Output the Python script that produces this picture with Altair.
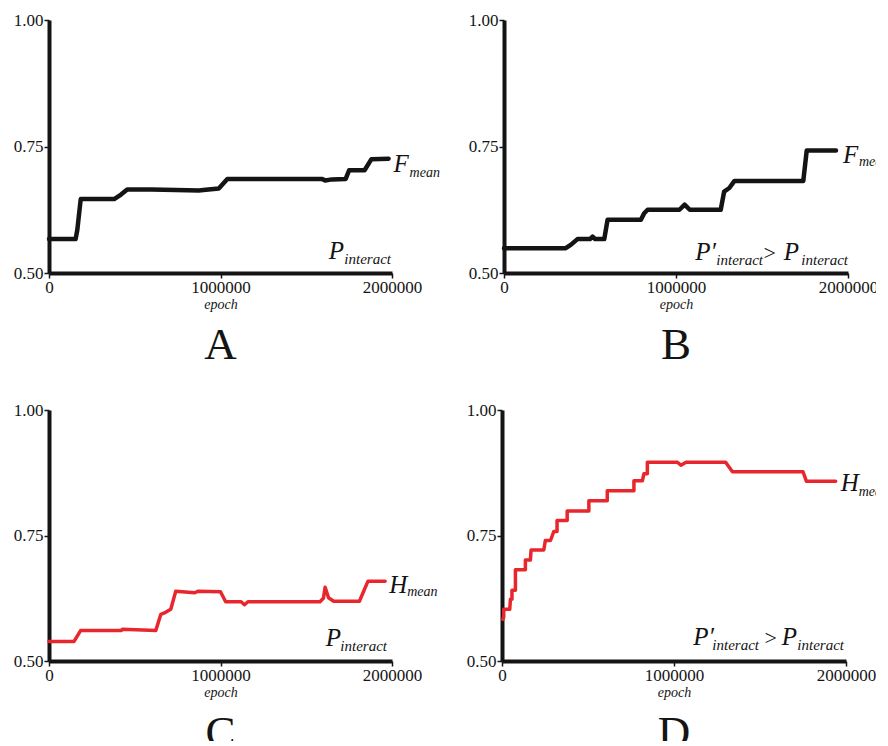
import altair as alt
import pandas as pd

# ---------------- data ----------------
A_epoch = [0, 155000, 165000, 185000, 380000, 420000, 456000, 600000, 874000, 900000,
           990000, 1040000, 1590000, 1610000, 1650000, 1730000, 1750000, 1840000, 1880000, 1980000]
A_value = [0.567, 0.567, 0.585, 0.646, 0.646, 0.655, 0.665, 0.665, 0.663, 0.664,
           0.667, 0.686, 0.686, 0.683, 0.685, 0.686, 0.703, 0.703, 0.725, 0.726]

B_epoch = [0, 359000, 390000, 427000, 500000, 515000, 530000, 583000, 602000, 796000,
           815000, 835000, 1020000, 1050000, 1080000, 1260000, 1280000, 1310000, 1340000,
           1740000, 1760000, 1930000]
B_value = [0.549, 0.549, 0.556, 0.567, 0.567, 0.572, 0.567, 0.567, 0.605, 0.605,
           0.618, 0.625, 0.625, 0.635, 0.625, 0.625, 0.661, 0.668, 0.682,
           0.682, 0.742, 0.742]

C_epoch = [0, 146000, 185000, 420000, 430000, 623000, 652000, 680000, 710000, 739000,
           850000, 870000, 1000000, 1030000, 1120000, 1140000, 1160000, 1580000, 1600000,
           1610000, 1630000, 1660000, 1810000, 1860000, 1960000]
C_value = [0.539, 0.539, 0.561, 0.561, 0.563, 0.561, 0.593, 0.597, 0.603, 0.639,
           0.636, 0.639, 0.638, 0.618, 0.618, 0.612, 0.618, 0.618, 0.625,
           0.647, 0.626, 0.619, 0.619, 0.659, 0.659]

D_epoch = [5000, 10000, 10000, 45000, 49000, 58000, 58000, 78000, 78000, 136000, 136000,
           165000, 169000, 243000, 252000, 282000, 301000, 320000, 320000, 379000, 379000,
           505000, 505000, 612000, 612000, 767000, 767000, 816000, 825000, 845000, 845000,
           1020000, 1040000, 1070000, 1300000, 1340000, 1750000, 1770000, 1940000]
D_value = [0.583, 0.588, 0.603, 0.603, 0.623, 0.623, 0.641, 0.641, 0.682, 0.682, 0.701,
           0.701, 0.721, 0.721, 0.740, 0.740, 0.758, 0.758, 0.780, 0.780, 0.799,
           0.799, 0.819, 0.819, 0.839, 0.839, 0.859, 0.859, 0.873, 0.873, 0.896,
           0.896, 0.890, 0.896, 0.896, 0.877, 0.877, 0.858, 0.858]

x_ticks = [0, 1000000, 2000000]
y_ticks = [0.50, 0.75, 1.00]
panel_letters = ["A", "B", "C", "D"]

BLACK = "#141414"
RED = "#e8262d"
SERIF = "Liberation Serif"


def text_layer(x, y, text, size, dx, dy, align="left", italic=True):
    return alt.Chart(pd.DataFrame({"k": [0]})).mark_text(
        text=text, font=SERIF, fontSize=size, fontStyle="italic" if italic else "normal",
        align=align, baseline="alphabetic", dx=dx, dy=dy, color=BLACK,
    ).encode(x=alt.datum(x), y=alt.datum(y))


def panel(epochs, values, color, stroke, letter, mean_sym, mean_off, p_parts,
          width, height):
    df = pd.DataFrame({"epoch": epochs, "value": values})
    line = alt.Chart(df).mark_line(color=color, strokeWidth=stroke, strokeJoin="round",
                                   strokeCap="round").encode(
        x=alt.X("epoch:Q", scale=alt.Scale(domain=[0, 2000000]),
                axis=alt.Axis(values=x_ticks, format="d", title="epoch", labelFlush=False,
                              grid=False)),
        y=alt.Y("value:Q", scale=alt.Scale(domain=[0.5, 1.0]),
                axis=alt.Axis(values=y_ticks, format=".2f", title=None, grid=False,
                              minExtent=47)),
    )
    layers = [line]
    ex, ev = epochs[-1], values[-1]
    fdx, fdy, mdx, mdy = mean_off
    layers.append(text_layer(ex, ev, mean_sym, 25, fdx, fdy))
    layers.append(text_layer(ex, ev, "mean", 14, mdx, mdy))
    for txt, size, dx, dy, italic in p_parts:
        layers.append(text_layer(2000000, 0.5, txt, size, dx, dy, align="right", italic=italic))
    return alt.layer(*layers).properties(
        width=width, height=height,
        title=alt.TitleParams(letter, orient="bottom", anchor="middle", font=SERIF,
                              fontSize=45, fontWeight="normal", color=BLACK, offset=12),
    )


pA = [("P", 25, -48, -14, True), ("interact", 15, -1, -9, True)]
pB = [("P\u2032", 25, -132, -13, True), ("interact", 15, -85, -8, True),
      (">", 22, -72, -13, False), ("P", 25, -49, -13, True), ("interact", 15, 0, -8, True)]
pC = [("P", 25, -51, -15, True), ("interact", 15, -5, -10, True)]
pD = [("P\u2032", 25, -132, -16, True), ("interact", 15, -87, -11, True),
      (">", 22, -69, -16, False), ("P", 25, -49, -16, True), ("interact", 15, -2, -11, True)]

A = panel(A_epoch, A_value, BLACK, 4.5, panel_letters[0], "F", (5, 13, 21, 18), pA, 343, 253)
B = panel(B_epoch, B_value, BLACK, 4.5, panel_letters[1], "F", (7, 12, 23, 15), pB, 344, 253)
C = panel(C_epoch, C_value, RED, 3.5, panel_letters[2], "H", (4, 12, 22, 15), pC, 343, 251)
D = panel(D_epoch, D_value, RED, 3.5, panel_letters[3], "H", (5, 10, 23, 15), pD, 344, 251)

chart = alt.vconcat(
    alt.hconcat(A, B, spacing=17),
    alt.hconcat(C, D, spacing=17),
    spacing=33,
).properties(
    padding={"left": -6, "top": 3, "right": -14, "bottom": -15},
).configure_view(stroke=None).configure_axis(
    labelFont=SERIF, labelFontSize=17, labelColor=BLACK, labelPadding=1,
    domainColor=BLACK, domainWidth=4, tickColor=BLACK, tickWidth=1.5, tickSize=5,
    titleFont=SERIF, titleFontStyle="italic", titleFontWeight="normal",
    titleFontSize=14, titleColor=BLACK, titlePadding=2,
)

chart.save("out.html", embed_options={"renderer": "svg", "actions": False})
